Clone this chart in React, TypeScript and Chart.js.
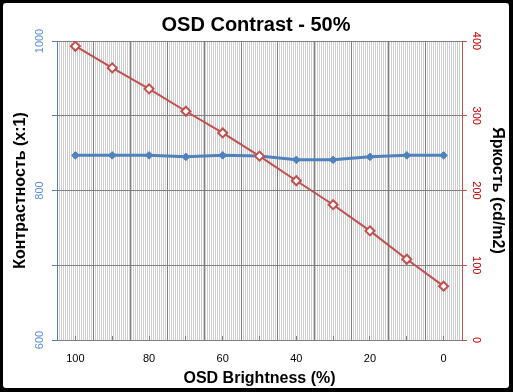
import { useEffect, useRef } from "react";
import { Chart, registerables } from "chart.js";
Chart.register(...registerables);

const categories = ["100", "90", "80", "70", "60", "50", "40", "30", "20", "10", "0"];
const contrast = [847, 847, 847, 845, 847, 846, 841, 841, 845, 847, 847];
const brightness = [393, 364, 336, 306, 277, 246, 213, 181, 146, 108, 72];
const contrastRange = [600, 1000];
const contrastLabelStep = 200;
const brightnessRange = [0, 400];
const tickStep = 100;
const minorLines = 202.5;

export default function App() {
  const ref = useRef<HTMLCanvasElement | null>(null);
  useEffect(() => {
    if (!ref.current) return;
    Chart.defaults.font.family = "'Liberation Sans', Arial, sans-serif";
    const chart = new Chart(ref.current, {
      type: "line",
      data: {
        labels: categories,
        datasets: [
          {
            label: "Контрастность",
            data: contrast,
            xAxisID: "x",
            yAxisID: "y",
            order: 1,
            borderColor: "#4f81bd",
            borderWidth: 3,
            pointStyle: "rectRot",
            pointRadius: 3.8,
            pointBackgroundColor: "#4f81bd",
            pointBorderColor: "#4f81bd",
            pointBorderWidth: 1,
            tension: 0,
          },
          {
            label: "Яркость",
            data: brightness,
            xAxisID: "x",
            yAxisID: "y1",
            order: 0,
            borderColor: "#c0504d",
            borderWidth: 2,
            pointStyle: "rectRot",
            pointRadius: 4.5,
            pointBackgroundColor: "#ffffff",
            pointBorderColor: "#c0504d",
            pointBorderWidth: 2,
            tension: 0,
          },
        ],
      },
      options: {
        responsive: false,
        maintainAspectRatio: false,
        animation: false,
        devicePixelRatio: 1,
        layout: { padding: 0 },
        plugins: {
          legend: { display: false },
          tooltip: { enabled: false },
          title: {
            display: true,
            text: "OSD Contrast - 50%",
            color: "#000",
            font: { size: 20, weight: "bold" },
            padding: { top: 10, bottom: 4 },
          },
        },
        scales: {
          xm: {
            type: "linear",
            position: "bottom",
            weight: 0,
            min: 0,
            max: minorLines,
            ticks: { display: false, stepSize: 1, autoSkip: false },
            grid: { color: "#cfcfcf", lineWidth: 1, drawTicks: false },
            border: { display: false },
            afterFit: (s: any) => { s.height = 0; },
          },
          xc: {
            type: "category",
            labels: categories,
            position: "bottom",
            weight: 1,
            offset: true,
            ticks: { display: false, autoSkip: false },
            grid: { offset: false, drawOnChartArea: false, drawTicks: true, tickLength: -4, color: "#808080" },
            border: { display: false },
            afterFit: (s: any) => { s.height = 0; },
          },
          x: {
            type: "category",
            labels: categories,
            position: "bottom",
            weight: 2,
            offset: true,
            ticks: {
              color: "#000",
              font: { size: 11 },
              padding: 12,
              autoSkip: false,
              maxRotation: 0,
              callback: (_v: any, i: number) => (i % 2 === 0 ? categories[i] : ""),
            },
            grid: { offset: true, color: "#808080", drawTicks: false },
            border: { color: "#808080" },
            title: {
              display: true,
              text: "OSD Brightness (%)",
              color: "#000",
              font: { size: 16, weight: "bold" },
              padding: { top: 0, bottom: 0 },
            },
            afterFit: (s: any) => { s.height = 48; },
          },
          y: {
            type: "linear",
            position: "left",
            min: contrastRange[0],
            max: contrastRange[1],
            ticks: {
              stepSize: tickStep,
              color: "#5b8fd8",
              font: { size: 11 },
              minRotation: 90,
              maxRotation: 90,
              crossAlign: "center",
              padding: 0,
              callback: (v: any) => ((v - contrastRange[0]) % contrastLabelStep === 0 ? String(v) : ""),
            },
            grid: { color: "#808080", tickColor: "#4f81bd", tickLength: 5 },
            border: { color: "#4f81bd" },
            title: {
              display: true,
              text: "Контрастность (x:1)",
              color: "#000",
              font: { size: 16, weight: "bold" },
              padding: { top: 8, bottom: 0 },
            },
            afterFit: (s: any) => { s.width = 54; },
          },
          y1: {
            type: "linear",
            position: "right",
            min: brightnessRange[0],
            max: brightnessRange[1],
            ticks: {
              stepSize: tickStep,
              color: "#c00000",
              font: { size: 11 },
              minRotation: -90,
              maxRotation: -90,
              crossAlign: "center",
              padding: 0,
              callback: (v: any) => String(v),
            },
            grid: { drawOnChartArea: false, tickColor: "#c0504d", tickLength: 5 },
            border: { color: "#c0504d" },
            title: {
              display: true,
              text: "Яркость (cd/m2)",
              color: "#000",
              font: { size: 16, weight: "bold" },
              padding: { top: 2, bottom: 0 },
            },
            afterFit: (s: any) => { s.width = 47; },
          },
        },
      },
    } as any);
    return () => chart.destroy();
  }, []);

  return (
    <div style={{ position: "absolute", left: 0, top: 0, width: 513, height: 392, background: "#000" }}>
      <div
        style={{
          position: "absolute",
          left: 3,
          top: 3,
          width: 506,
          height: 385,
          background: "#fff",
          borderRadius: 3,
          overflow: "hidden",
        }}
      >
        <canvas ref={ref} width={506} height={385} style={{ display: "block" }} />
      </div>
    </div>
  );
}
